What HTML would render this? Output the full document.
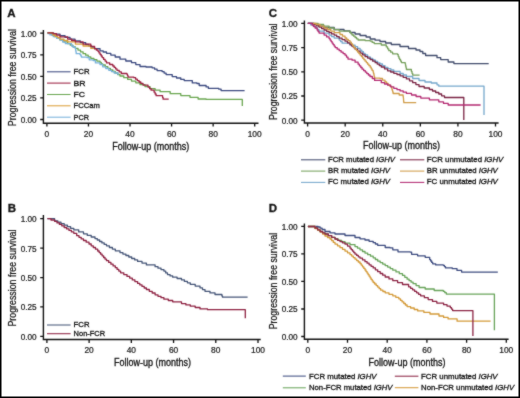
<!DOCTYPE html>
<html><head><meta charset="utf-8"><style>
html,body{margin:0;padding:0;background:#fff;}
body{width:520px;height:398px;overflow:hidden;position:relative;}
svg{position:absolute;left:0;top:0;display:block;will-change:transform;}
text{font-family:"Liberation Sans", sans-serif;fill:#151515;stroke:#151515;stroke-width:0.32px;}
.tk{stroke-width:0.22px;fill:#1a1a1a;stroke:#1a1a1a;}
.yt{stroke-width:0.24px;}
</style></head><body>
<svg width="520" height="398" viewBox="0 0 520 398">
<defs><filter id="bl" x="0" y="0" width="520" height="398" filterUnits="userSpaceOnUse" color-interpolation-filters="sRGB"><feConvolveMatrix order="3" kernelMatrix="1 2 1 2 20 2 1 2 1" divisor="32" edgeMode="duplicate"/></filter></defs>
<g filter="url(#bl)">
<rect x="0" y="0" width="520" height="398" fill="#fff"/>
<path d="M47.2 32.8H53.6V34.2H60.0V35.6H65.0V37.3H70.0V39.1H75.0V40.8H80.3V42.6H85.7V44.5H88.6V45.9H91.6V47.2H94.5V48.6H100.0V50.8H103.2V52.0H106.5V53.3H110.8V55.1H115.2V57.0H120.0V59.2H125.8V61.0H131.5V62.7H135.8V64.6H140.0V66.5H146.0V67.0H152.1V67.8H154.6V69.2H157.1V70.6H162.1V71.6H164.1V73.1H166.1V74.6H172.2V76.6H176.5V78.0H180.8V79.4H184.2V80.6H192.3V82.9H196.9V83.5H199.2V85.5H206.1V86.9H208.4V88.4H218.8V89.2H221.1V90.6L244.6 90.6" fill="none" stroke="#3c4a80" stroke-width="1.3" stroke-linejoin="round"/>
<path d="M47.6 32.9H52.0V35.2H54.7V36.7H57.3V38.3H60.0V39.8H63.9V41.8H67.7V43.7H70.3V45.2H72.8V46.8H75.4V48.3H78.0V50.1H80.5V51.9H83.1V53.7H85.7V55.2H88.2V56.8H90.8V58.3H93.9V59.7H96.9V61.1H100.0V62.5H101.3V63.8H102.7V65.0H105.3V66.7H107.8V68.3H110.4V70.0H112.8V71.5H115.2V73.0H117.6V74.5H120.0V76.0H123.8V77.7H127.7V79.4H131.5V81.1H135.8V82.8H140.0V84.6H145.0V86.6H150.0V88.6H155.1V90.2H160.1V91.7H170.2V93.7H180.8V95.6H190.0V97.3H198.1V99.0H206.1V99.4H242.3V99.6L242.3 106.0" fill="none" stroke="#6aa650" stroke-width="1.3" stroke-linejoin="round"/>
<path d="M47.6 33.6H50.0V34.9H53.3V36.7H56.7V38.4H60.0V40.2H62.7V42.0H65.4V43.7H71.5V46.0H73.5V47.4H75.4V48.7H75.7V50.4H75.9V52.0H76.2V53.7H80.0V54.5H80.8V55.9H81.5V57.2H86.9V57.5H89.2V59.8H93.1V60.6H95.4V62.9H100.0V64.5H102.7V66.8H105.8V68.5H108.8V70.3H111.5V71.7H114.2V73.0H118.0V75.0" fill="none" stroke="#78b2dc" stroke-width="1.3" stroke-linejoin="round"/>
<path d="M47.6 32.9H53.0V35.0H55.3V36.4H57.7V37.7H60.0V39.1H63.9V40.5H67.7V41.8H75.4V44.1H83.1V46.0H90.8V48.3H94.6V49.5" fill="none" stroke="#dca038" stroke-width="1.3" stroke-linejoin="round"/>
<path d="M47.6 32.8H53.0V33.6H56.5V35.2H60.0V36.8H67.7V39.1H71.6V40.5H75.4V41.8H83.1V44.1H90.8V46.4H94.6V48.7H96.3V50.0H98.0V51.3H99.0V52.9H100.1V54.5H101.2V56.0H102.2V57.6H103.6V59.4H105.1V61.1H106.5V62.9H109.7V64.5H112.8V66.0H114.2V67.4H115.6V68.9H117.0V70.3H119.2V71.9H121.3V73.5H126.9V74.2H127.5V75.7H128.1V77.1H133.8V77.7H135.6V79.2H137.3V80.6H139.1V82.0H140.8V83.4H143.0V85.1H148.0V87.1H149.6V88.7H151.1V90.2H154.1V92.2H155.1V94.0H156.1V95.7L162.1 95.7H162.6V97.5H163.1V99.2L168.7 99.2" fill="none" stroke="#9c2040" stroke-width="1.3" stroke-linejoin="round"/>
<path d="M47.4 218.7H54.6V220.8H57.8V222.2H61.0V223.7H64.2V225.1H67.4V226.7H70.6V228.3H73.8V229.9H78.7V231.9H83.5V233.8H87.3V235.4H91.2V237.0H95.0V238.6H97.3V240.0H99.6V241.5H101.9V242.9H104.2V244.4H106.5V245.8H109.4V247.5H112.4V249.1H115.3V250.8H120.0V252.6H122.9V254.1H125.9V255.5H128.8V257.0H131.7V258.5H134.7V259.9H137.6V261.4H142.0V263.1H146.4V264.9H155.1V266.7H158.0V268.2H161.0V269.6H163.9V271.1H165.7V272.9H167.5V274.6H170.1V275.9H172.7V277.2H177.1V278.5H181.5V279.9H184.4V281.4H187.4V282.8H190.3V284.3H195.2V286.1H200.0V287.8H202.5V289.6H205.0V291.3H210.0V292.9H215.0V294.5L221.3 294.5H221.9V295.9H222.5V297.2L247.6 297.2" fill="none" stroke="#465678" stroke-width="1.3" stroke-linejoin="round"/>
<path d="M47.4 218.7H51.0V220.0H54.6V221.3H57.0V222.9H59.4V224.4H61.8V225.9H64.2V227.5H66.6V228.9H69.0V230.4H71.4V231.9H73.8V233.3H76.7V235.7H79.0V237.3H81.2V238.9H83.5V240.5H86.2V242.2H89.0V244.0H91.2V245.8H93.3V247.5H95.5V249.2H97.7V251.0H99.2V252.6H100.6V254.2H102.1V255.8H103.6V257.5H105.0V259.1H106.5V260.7H108.7V262.4H110.9V264.2H113.1V265.9H115.3V267.7H117.1V269.4H118.8V271.1H120.6V272.8H123.8V274.6H127.0V276.4H129.7V278.1H132.3V279.9H134.9V281.6H137.6V283.4H139.8V284.9H142.0V286.4H144.2V288.0H146.4V289.5H149.3V291.3H152.2V293.0H155.1V294.8H158.0V296.3H161.0V297.7H163.9V299.2H168.3V300.5H172.7V301.8H181.5V303.6H185.9V304.9H190.3V306.2H195.2V307.5H200.0V308.9H207.5V309.7L245.3 309.7L245.3 318.3" fill="none" stroke="#8e2242" stroke-width="1.3" stroke-linejoin="round"/>
<path d="M307.8 23.3H313.2V24.7H318.7V26.1H324.1V27.5H334.2V29.5H344.0V30.8H350.0V32.5H355.1V34.0H360.1V35.5H366.1V37.0H370.2V39.0H375.1V40.2H380.0V41.5H385.6V43.0H391.3V44.5H400.0V46.5H408.5V48.5H416.0V50.0H420.0V51.5H422.8V53.5H425.6V55.5H437.0V57.7H440.7V59.6H448.2V62.0H453.9V63.6L488.7 63.6" fill="none" stroke="#424c6c" stroke-width="1.3" stroke-linejoin="round"/>
<path d="M307.8 23.3H318.1V24.5H323.6V26.2H329.1V28.0H334.1V29.6H339.2V31.1H350.0V32.5H351.1V33.8H352.1V35.0H353.6V36.2H355.1V37.5H356.6V38.8H358.1V40.0H365.1V40.6H370.2V41.1H372.2V42.4H374.2V43.6H381.3V45.0H386.3V46.9H387.6V48.8H388.8V50.7H390.7V52.2H392.6V53.8H397.6V54.4H398.2V56.3H398.9V58.2H399.7V59.7H400.6V61.1H401.4V62.6H405.2V63.8H405.5V65.2H405.8V66.7H406.1V68.1H406.4V69.5H411.4V71.4H412.0V73.3H412.7V75.2L419.6 75.2" fill="none" stroke="#76a05c" stroke-width="1.3" stroke-linejoin="round"/>
<path d="M307.8 23.3H310.6V24.9H313.3V26.4H316.1V28.0H317.6V29.6H319.1V31.1H324.1V33.1H329.1V35.1H331.6V36.6H334.2V38.1H339.2V40.1H340.7V41.7H342.2V43.2H350.0V45.1H355.1V46.6H357.6V48.4H360.1V50.1H361.8V51.7H363.4V53.4H365.1V55.0H367.6V56.8H370.2V58.5H372.7V60.0H375.2V61.5H377.6V62.8H380.0V64.0H382.5V65.7H385.0V67.3H387.9V68.7H390.9V70.0H393.8V71.4H400.1V73.5H403.2V75.0H406.4V76.5H412.7V78.5H419.0V80.5H425.0V82.0H431.3V83.0H437.0V84.8H438.8V86.2L484.0 86.2L484.0 115.0" fill="none" stroke="#76a8cc" stroke-width="1.3" stroke-linejoin="round"/>
<path d="M307.8 23.3H314.1V24.5H316.6V25.8H319.1V27.0H321.6V28.5H324.1V30.0H326.6V31.3H329.1V32.6H331.6V33.9H334.2V35.1H336.7V36.6H339.2V38.1H342.1V39.6H345.0V41.1H347.5V42.9H350.0V44.6H351.7V46.1H353.4V47.6H355.1V49.1H357.6V51.1H360.1V53.1H362.6V54.9H365.1V56.6H367.6V58.1H370.2V59.6H372.7V61.2H375.2V62.7H377.2V64.1H379.3V65.6H381.3V67.0H384.5V68.9H387.6V70.8H390.7V72.0H393.8V73.3H397.0V74.5H400.1V75.8H403.2V77.3H406.4V78.9H409.5V80.8H412.7V82.7H415.9V84.6H419.0V86.5H424.2V88.0H429.4V89.5H432.5V91.0H435.7V92.5H438.8V94.0H441.6V95.8H444.5V97.5L463.8 97.5L463.8 120.0" fill="none" stroke="#7a2444" stroke-width="1.3" stroke-linejoin="round"/>
<path d="M313.0 23.5H316.1V24.5H320.1V26.2H324.1V28.0H327.5V29.5H330.8V31.1H334.2V32.6H340.0V34.5H342.5V36.2H345.0V38.0H346.7V39.4H348.3V40.7H350.0V42.1H351.3V43.9H352.6V45.6H353.8V47.4H355.1V49.1H356.4V50.6H357.6V52.1H358.9V53.6H360.1V55.1H361.4V56.6H362.6V58.2H363.9V59.7H365.1V61.2H366.4V62.7H367.6V64.2H368.9V65.7H370.2V67.2H371.2V68.8H372.1V70.4H373.1V72.0H373.5V73.5H373.9V75.0H374.2V76.6H374.6V78.1H380.0V78.5H382.5V80.2H385.0V82.0H386.6V83.4H388.2V84.8H389.9V86.3H391.5V87.7H391.9V89.2H392.3V90.6H392.7V92.0H393.1V93.5H399.2V95.0H403.1V96.5H403.3V98.0H403.5V99.6H403.6V101.2H403.8V102.7L416.2 102.7" fill="none" stroke="#d09c48" stroke-width="1.3" stroke-linejoin="round"/>
<path d="M307.8 23.3H312.0V25.0H313.6V26.5H315.1V28.0H317.1V30.0H318.1V31.6H319.1V33.1H324.1V35.1H326.6V36.9H329.1V38.6H330.1V40.1H331.1V41.6H332.1V43.1H333.1V44.6H334.2V46.1H335.2V47.6H337.2V49.2H339.2V50.7H341.1V52.2H343.1V53.6H345.0V55.1H346.5V57.1H348.0V59.1H352.1V60.2H355.1V62.2H358.1V64.2H359.4V65.9H360.8V67.5H362.1V69.2H363.7V70.7H365.3V72.1H366.8V73.6H368.4V75.0H370.0V76.5H372.3V78.5H374.6V80.4H381.3V82.7H384.5V84.0H387.6V85.2H390.7V86.8H393.8V88.3H397.0V89.6H400.1V90.9H403.2V92.2H406.4V93.4H411.5V95.0H416.1V96.5H420.8V98.1H429.4V99.8H438.8V101.8H443.5V103.4H448.2V105.0L480.6 105.0" fill="none" stroke="#b42a72" stroke-width="1.3" stroke-linejoin="round"/>
<path d="M307.9 226.5H318.1V227.0H320.1V228.2H322.1V229.5H325.0V231.5H330.0V232.8H335.0V234.0H345.0V235.5H355.0V237.5H360.0V238.8H365.0V240.0H369.1V241.3H373.2V242.7H375.4V244.0H377.7V245.3H385.2V247.5H390.0V247.8H392.8V249.8H398.0V251.8H410.1V252.1H411.6V254.3H417.6V255.8H425.2V257.3H429.7V259.6H430.7V261.0H431.7V262.4H432.7V263.8H435.7V264.9H443.3V265.3H444.4V266.6H445.5V267.9H452.3V268.7H457.0V270.4H461.6V272.1L497.8 272.1" fill="none" stroke="#3e4c80" stroke-width="1.3" stroke-linejoin="round"/>
<path d="M307.9 226.5H315.0V228.0H317.6V229.8H320.1V231.5H322.6V232.8H325.0V234.0H328.3V235.7H331.7V237.3H335.0V239.0H338.3V240.4H341.7V241.7H345.0V243.1H350.0V244.6H355.0V246.6H357.5V248.2H360.0V249.8H362.5V251.5H365.0V253.1H367.7V254.7H370.5V256.2H373.2V257.8H375.4V259.5H377.7V261.1H380.2V262.6H382.7V264.1H385.2V265.6H387.7V267.1H390.3V268.7H392.8V270.2H396.0V271.9H399.3V273.7H402.5V275.4H404.8V277.3H407.1V279.2H409.1V280.7H411.1V282.2H413.1V283.7H416.1V285.6H419.1V287.5H425.2V289.0H434.2V290.5H443.3V291.3H444.8V292.7H446.3V294.1L494.4 294.1L494.4 330.2" fill="none" stroke="#68a45a" stroke-width="1.3" stroke-linejoin="round"/>
<path d="M307.9 226.5H315.0V228.5H317.6V230.2H320.1V232.0H322.6V234.0H325.0V236.0H327.5V237.5H330.0V239.0H331.7V240.7H333.3V242.4H335.0V244.1H337.5V245.8H340.0V247.6H342.5V249.3H345.0V251.1H347.5V252.8H350.0V254.6H351.7V256.1H353.3V257.6H355.0V259.1H356.7V260.6H358.3V262.0H360.0V263.5H361.2V265.1H362.5V266.8H363.8V268.4H365.0V270.0H366.0V271.6H367.1V273.1H368.1V274.7H369.1V276.2H370.1V277.8H371.1V279.4H372.2V280.9H373.2V282.5H374.7V284.0H376.2V285.6H377.7V287.1H379.2V288.7H380.7V290.2H382.9V291.5H385.2V292.8H389.0V294.3H392.8V295.8H395.8V297.3H398.8V298.8H400.5V300.4H402.1V301.9H403.8V303.5H405.4V305.0H407.1V306.6H410.6V308.0H414.2V309.5H417.7V310.9H423.9V312.4H430.0V314.0H439.0V316.0H443.6V317.4H448.1V318.9H457.1V321.2L490.6 321.2" fill="none" stroke="#d49a38" stroke-width="1.3" stroke-linejoin="round"/>
<path d="M307.9 226.5H315.0V228.0H317.6V229.8H320.1V231.5H322.6V232.8H325.0V234.0H328.3V235.7H331.7V237.3H335.0V239.0H337.5V240.3H340.0V241.6H342.5V242.8H345.0V244.1H347.5V246.1H350.0V248.1H351.2V249.6H352.5V251.1H353.8V252.6H355.0V254.1H356.7V255.4H358.3V256.8H360.0V258.1H362.5V259.9H365.0V261.7H367.1V263.2H369.1V264.8H371.1V266.3H373.2V267.9H375.4V269.8H377.7V271.7H380.2V273.5H382.7V275.2H385.2V277.0H389.0V278.9H392.8V280.7H397.6V282.6H402.5V284.5H408.6V286.8H410.6V288.3H412.6V289.8H414.6V291.3H416.6V292.8H418.6V294.3H420.6V295.8H424.4V297.7H428.2V299.6H432.5V301.4H436.8V303.1H443.6V304.7H447.0V306.1H450.3V307.6H451.5V309.1H452.6V310.6L472.9 310.6L472.9 335.9" fill="none" stroke="#8c2444" stroke-width="1.3" stroke-linejoin="round"/>
<path d="M43.4 30.1V123.2H258.5" fill="none" stroke="#111" stroke-width="1.4"/><text x="36.60" y="122.90" font-size="8.2" text-anchor="end" class="tk">0.00</text><text x="36.60" y="101.33" font-size="8.2" text-anchor="end" class="tk">0.25</text><text x="36.60" y="79.75" font-size="8.2" text-anchor="end" class="tk">0.50</text><text x="36.60" y="58.18" font-size="8.2" text-anchor="end" class="tk">0.75</text><text x="36.60" y="36.60" font-size="8.2" text-anchor="end" class="tk">1.00</text><text x="46.90" y="136.70" font-size="8.4" text-anchor="middle" class="tk">0</text><text x="88.46" y="136.70" font-size="8.4" text-anchor="middle" class="tk">20</text><text x="130.02" y="136.70" font-size="8.4" text-anchor="middle" class="tk">40</text><text x="171.58" y="136.70" font-size="8.4" text-anchor="middle" class="tk">60</text><text x="213.14" y="136.70" font-size="8.4" text-anchor="middle" class="tk">80</text><text x="254.70" y="136.70" font-size="8.4" text-anchor="middle" class="tk">100</text><path d="M40.199999999999996 119.50H43.4M40.199999999999996 97.92H43.4M40.199999999999996 76.35H43.4M40.199999999999996 54.78H43.4M40.199999999999996 33.20H43.4M46.90 123.2V126.60000000000001M88.46 123.2V126.60000000000001M130.02 123.2V126.60000000000001M171.58 123.2V126.60000000000001M213.14 123.2V126.60000000000001M254.70 123.2V126.60000000000001" fill="none" stroke="#111" stroke-width="1.3"/><text x="7.3" y="17.0" font-size="11.5" font-weight="bold">A</text><text x="150.80" y="149.50" font-size="10.0" text-anchor="middle" textLength="77" lengthAdjust="spacingAndGlyphs">Follow-up (months)</text><text transform="translate(15.5 77.65) rotate(-90)" x="0" y="0" class="yt" font-size="10.4" text-anchor="middle" textLength="97" lengthAdjust="spacingAndGlyphs">Progression free survival</text><path d="M43.4 215.1V339.5H260.7" fill="none" stroke="#111" stroke-width="1.4"/><text x="36.60" y="339.80" font-size="8.2" text-anchor="end" class="tk">0.00</text><text x="36.60" y="310.37" font-size="8.2" text-anchor="end" class="tk">0.25</text><text x="36.60" y="280.95" font-size="8.2" text-anchor="end" class="tk">0.50</text><text x="36.60" y="251.53" font-size="8.2" text-anchor="end" class="tk">0.75</text><text x="36.60" y="222.10" font-size="8.2" text-anchor="end" class="tk">1.00</text><text x="46.90" y="353.00" font-size="8.4" text-anchor="middle" class="tk">0</text><text x="89.12" y="353.00" font-size="8.4" text-anchor="middle" class="tk">20</text><text x="131.34" y="353.00" font-size="8.4" text-anchor="middle" class="tk">40</text><text x="173.56" y="353.00" font-size="8.4" text-anchor="middle" class="tk">60</text><text x="215.78" y="353.00" font-size="8.4" text-anchor="middle" class="tk">80</text><text x="258.00" y="353.00" font-size="8.4" text-anchor="middle" class="tk">100</text><path d="M40.199999999999996 336.40H43.4M40.199999999999996 306.97H43.4M40.199999999999996 277.55H43.4M40.199999999999996 248.12H43.4M40.199999999999996 218.70H43.4M46.90 339.5V342.9M89.12 339.5V342.9M131.34 339.5V342.9M173.56 339.5V342.9M215.78 339.5V342.9M258.00 339.5V342.9" fill="none" stroke="#111" stroke-width="1.3"/><text x="7.7" y="212.0" font-size="11.5" font-weight="bold">B</text><text x="152.45" y="365.80" font-size="10.0" text-anchor="middle" textLength="77" lengthAdjust="spacingAndGlyphs">Follow-up (months)</text><text transform="translate(15.7 278.05) rotate(-90)" x="0" y="0" class="yt" font-size="10.4" text-anchor="middle" textLength="97" lengthAdjust="spacingAndGlyphs">Progression free survival</text><path d="M304.4 20.4V123.0H498.6" fill="none" stroke="#111" stroke-width="1.4"/><text x="297.60" y="123.60" font-size="8.2" text-anchor="end" class="tk">0.00</text><text x="297.60" y="99.40" font-size="8.2" text-anchor="end" class="tk">0.25</text><text x="297.60" y="75.20" font-size="8.2" text-anchor="end" class="tk">0.50</text><text x="297.60" y="51.00" font-size="8.2" text-anchor="end" class="tk">0.75</text><text x="297.60" y="26.80" font-size="8.2" text-anchor="end" class="tk">1.00</text><text x="307.60" y="136.50" font-size="8.4" text-anchor="middle" class="tk">0</text><text x="345.18" y="136.50" font-size="8.4" text-anchor="middle" class="tk">20</text><text x="382.76" y="136.50" font-size="8.4" text-anchor="middle" class="tk">40</text><text x="420.34" y="136.50" font-size="8.4" text-anchor="middle" class="tk">60</text><text x="457.92" y="136.50" font-size="8.4" text-anchor="middle" class="tk">80</text><text x="495.50" y="136.50" font-size="8.4" text-anchor="middle" class="tk">100</text><path d="M301.2 120.20H304.4M301.2 96.00H304.4M301.2 71.80H304.4M301.2 47.60H304.4M301.2 23.40H304.4M307.60 123.0V126.4M345.18 123.0V126.4M382.76 123.0V126.4M420.34 123.0V126.4M457.92 123.0V126.4M495.50 123.0V126.4" fill="none" stroke="#111" stroke-width="1.3"/><text x="268.7" y="17.3" font-size="11.5" font-weight="bold">C</text><text x="401.55" y="149.30" font-size="10.0" text-anchor="middle" textLength="77" lengthAdjust="spacingAndGlyphs">Follow-up (months)</text><text transform="translate(276.8 71.70) rotate(-90)" x="0" y="0" class="yt" font-size="10.4" text-anchor="middle" textLength="96.5" lengthAdjust="spacingAndGlyphs">Progression free survival</text><path d="M304.4 223.4V339.3H508.6" fill="none" stroke="#111" stroke-width="1.4"/><text x="297.60" y="339.90" font-size="8.2" text-anchor="end" class="tk">0.00</text><text x="297.60" y="312.38" font-size="8.2" text-anchor="end" class="tk">0.25</text><text x="297.60" y="284.85" font-size="8.2" text-anchor="end" class="tk">0.50</text><text x="297.60" y="257.32" font-size="8.2" text-anchor="end" class="tk">0.75</text><text x="297.60" y="229.80" font-size="8.2" text-anchor="end" class="tk">1.00</text><text x="307.80" y="352.80" font-size="8.4" text-anchor="middle" class="tk">0</text><text x="347.50" y="352.80" font-size="8.4" text-anchor="middle" class="tk">20</text><text x="387.20" y="352.80" font-size="8.4" text-anchor="middle" class="tk">40</text><text x="426.90" y="352.80" font-size="8.4" text-anchor="middle" class="tk">60</text><text x="466.60" y="352.80" font-size="8.4" text-anchor="middle" class="tk">80</text><text x="506.30" y="352.80" font-size="8.4" text-anchor="middle" class="tk">100</text><path d="M301.2 336.50H304.4M301.2 308.98H304.4M301.2 281.45H304.4M301.2 253.93H304.4M301.2 226.40H304.4M307.80 339.3V342.7M347.50 339.3V342.7M387.20 339.3V342.7M426.90 339.3V342.7M466.60 339.3V342.7M506.30 339.3V342.7" fill="none" stroke="#111" stroke-width="1.3"/><text x="268.7" y="212.0" font-size="11.5" font-weight="bold">D</text><text x="407.05" y="365.60" font-size="10.0" text-anchor="middle" textLength="77" lengthAdjust="spacingAndGlyphs">Follow-up (months)</text><text transform="translate(276.8 281.05) rotate(-90)" x="0" y="0" class="yt" font-size="10.4" text-anchor="middle" textLength="96.5" lengthAdjust="spacingAndGlyphs">Progression free survival</text>
<path d="M47 71.8H70.6" stroke="#3c4a80" stroke-width="1.05"/>
<text x="73.6" y="74.20" font-size="8.0" textLength="15.9" lengthAdjust="spacingAndGlyphs">FCR</text>
<path d="M47 83.1H70.6" stroke="#9c2040" stroke-width="1.05"/>
<text x="73.6" y="85.50" font-size="8.0" textLength="12" lengthAdjust="spacingAndGlyphs">BR</text>
<path d="M47 94.5H70.6" stroke="#6aa650" stroke-width="1.05"/>
<text x="73.6" y="96.90" font-size="8.0" textLength="11.5" lengthAdjust="spacingAndGlyphs">FC</text>
<path d="M47 105.8H70.6" stroke="#dca038" stroke-width="1.05"/>
<text x="73.6" y="108.20" font-size="8.0" textLength="26.2" lengthAdjust="spacingAndGlyphs">FCCam</text>
<path d="M47 117.2H70.6" stroke="#78b2dc" stroke-width="1.05"/>
<text x="73.6" y="119.60" font-size="8.0" textLength="15.4" lengthAdjust="spacingAndGlyphs">PCR</text>
<path d="M47 325.0H70.6" stroke="#465678" stroke-width="1.05"/>
<text x="73.6" y="327.40" font-size="8.0" textLength="15.9" lengthAdjust="spacingAndGlyphs">FCR</text>
<path d="M47 333.7H70.6" stroke="#8e2242" stroke-width="1.05"/>
<text x="73.6" y="336.10" font-size="8.0" textLength="31.5" lengthAdjust="spacingAndGlyphs">Non-FCR</text>
<path d="M301 159.8H325.3" stroke="#424c6c" stroke-width="1.05"/>
<text x="328.0" y="161.80" font-size="8.0" textLength="67" lengthAdjust="spacingAndGlyphs">FCR mutated <tspan font-style="italic">IGHV</tspan></text>
<path d="M400 159.8H424.3" stroke="#7a2444" stroke-width="1.05"/>
<text x="426.8" y="161.80" font-size="8.0" textLength="76.5" lengthAdjust="spacingAndGlyphs">FCR unmutated <tspan font-style="italic">IGHV</tspan></text>
<path d="M301 171.1H325.3" stroke="#76a05c" stroke-width="1.05"/>
<text x="328.0" y="173.10" font-size="8.0" textLength="62" lengthAdjust="spacingAndGlyphs">BR mutated <tspan font-style="italic">IGHV</tspan></text>
<path d="M400 171.1H424.3" stroke="#d09c48" stroke-width="1.05"/>
<text x="426.8" y="173.10" font-size="8.0" textLength="71" lengthAdjust="spacingAndGlyphs">BR unmutated <tspan font-style="italic">IGHV</tspan></text>
<path d="M301 182.4H325.3" stroke="#76a8cc" stroke-width="1.05"/>
<text x="328.0" y="184.40" font-size="8.0" textLength="62" lengthAdjust="spacingAndGlyphs">FC mutated <tspan font-style="italic">IGHV</tspan></text>
<path d="M400 182.4H424.3" stroke="#b42a72" stroke-width="1.05"/>
<text x="426.8" y="184.40" font-size="8.0" textLength="71" lengthAdjust="spacingAndGlyphs">FC unmutated <tspan font-style="italic">IGHV</tspan></text>
<path d="M282.8 376.1H305.8" stroke="#3e4c80" stroke-width="1.05"/>
<text x="309.0" y="378.50" font-size="8.0" textLength="67.5" lengthAdjust="spacingAndGlyphs">FCR mutated <tspan font-style="italic">IGHV</tspan></text>
<path d="M282.8 387.8H305.8" stroke="#68a45a" stroke-width="1.05"/>
<text x="309.0" y="390.20" font-size="8.0" textLength="83.5" lengthAdjust="spacingAndGlyphs">Non-FCR mutated <tspan font-style="italic">IGHV</tspan></text>
<path d="M394.8 376.2H418.4" stroke="#8c2444" stroke-width="1.05"/>
<text x="421.1" y="378.60" font-size="8.0" textLength="76.5" lengthAdjust="spacingAndGlyphs">FCR unmutated <tspan font-style="italic">IGHV</tspan></text>
<path d="M394.8 387.7H418.4" stroke="#d49a38" stroke-width="1.05"/>
<text x="421.1" y="390.10" font-size="8.0" textLength="93" lengthAdjust="spacingAndGlyphs">Non-FCR unmutated <tspan font-style="italic">IGHV</tspan></text>
</g>
<path d="M0.75 0.75H519.25V397.25H0.75Z" fill="none" stroke="#000" stroke-width="1.5"/>
</svg>
</body></html>
